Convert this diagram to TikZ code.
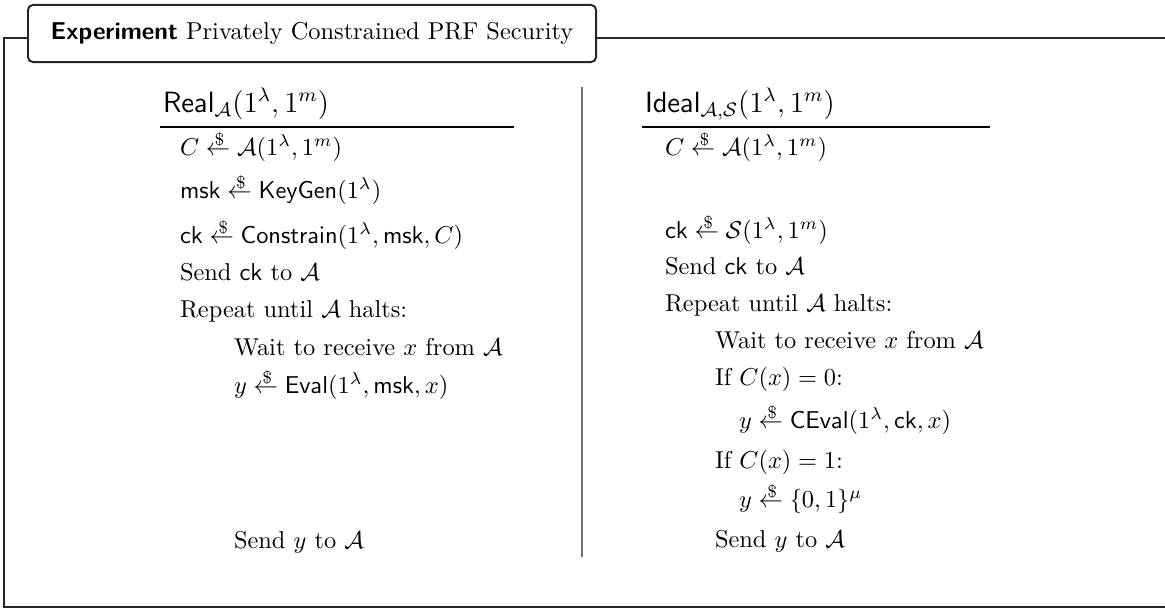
\documentclass[tikz,border=0pt]{standalone}
\usepackage{amsmath}
\newcommand{\rsmp}{\mathrel{\rlap{\raisebox{3.8pt}{\kern3.6pt\scriptsize\$}}{\leftarrow}}}
\tikzset{
  ln/.style={anchor=base west, inner sep=0pt, outer sep=0pt},
  hdr/.style={ln, font=\large},
  framel/.style={line width=0.8pt, black!85},
  rulel/.style={line width=0.5pt},
  sepl/.style={line width=0.7pt, black!55},
  titlebox/.style={draw, line width=0.8pt, black!85, text=black, fill=white, rounded corners=2pt,
    minimum width=232.9pt, minimum height=23.4pt, inner xsep=4pt}
}
\begin{document}
\begin{tikzpicture}[x=0.41pt, y=-0.41pt]
\useasboundingbox (0,0) rectangle (1165,610);
% outer frame
\coordinate (ftr) at (1166,38);
\coordinate (ftl) at (4,38);
\coordinate (fbl) at (4,607);
\coordinate (fbr) at (1166,607);
\draw[framel] (ftr) -- (ftl) -- (fbl) -- (fbr);
\node[titlebox] (title) at (312,33.5) {\textsf{\bfseries Experiment} Privately Constrained PRF Security};
% separator
\coordinate (s1) at (582,87);
\coordinate (s2) at (582,557);
\draw[sepl] (s1) -- (s2);
% left column
\node[hdr] (realh) at (163,112) {$\mathsf{Real}_{\mathcal{A}}(1^{\lambda},1^{m})$};
\coordinate (lr1) at (160,127);
\coordinate (lr2) at (514,127);
\draw[rulel] (lr1) -- (lr2);
\node[ln] (l1) at (180,155) {$C \rsmp \mathcal{A}(1^{\lambda},1^{m})$};
\node[ln] (l2) at (180,198) {$\mathsf{msk} \rsmp \mathsf{KeyGen}(1^{\lambda})$};
\node[ln] (l3) at (180,243) {$\mathsf{ck} \rsmp \mathsf{Constrain}(1^{\lambda},\mathsf{msk},C)$};
\node[ln] (l4) at (180,280) {Send $\mathsf{ck}$ to $\mathcal{A}$};
\node[ln] (l5) at (180,317) {Repeat until $\mathcal{A}$ halts:};
\node[ln] (l6) at (234,355) {Wait to receive $x$ from $\mathcal{A}$};
\node[ln] (l7) at (234,393) {$y \rsmp \mathsf{Eval}(1^{\lambda},\mathsf{msk},x)$};
\node[ln] (l8) at (234,548) {Send $y$ to $\mathcal{A}$};
% right column
\node[hdr] (idealh) at (645,112) {$\mathsf{Ideal}_{\mathcal{A},\mathcal{S}}(1^{\lambda},1^{m})$};
\coordinate (rr1) at (642,127);
\coordinate (rr2) at (990,127);
\draw[rulel] (rr1) -- (rr2);
\node[ln] (r1) at (665,155) {$C \rsmp \mathcal{A}(1^{\lambda},1^{m})$};
\node[ln] (r2) at (665,238) {$\mathsf{ck} \rsmp \mathcal{S}(1^{\lambda},1^{m})$};
\node[ln] (r3) at (665,274) {Send $\mathsf{ck}$ to $\mathcal{A}$};
\node[ln] (r4) at (665,311) {Repeat until $\mathcal{A}$ halts:};
\node[ln] (r5) at (715,348) {Wait to receive $x$ from $\mathcal{A}$};
\node[ln] (r6) at (715,385) {If $C(x)=0$:};
\node[ln] (r7) at (739,428) {$y \rsmp \mathsf{CEval}(1^{\lambda},\mathsf{ck},x)$};
\node[ln] (r8) at (715,468) {If $C(x)=1$:};
\node[ln] (r9) at (739,507) {$y \rsmp \{0,1\}^{\mu}$};
\node[ln] (r10) at (715,547) {Send $y$ to $\mathcal{A}$};
\end{tikzpicture}
\end{document}
